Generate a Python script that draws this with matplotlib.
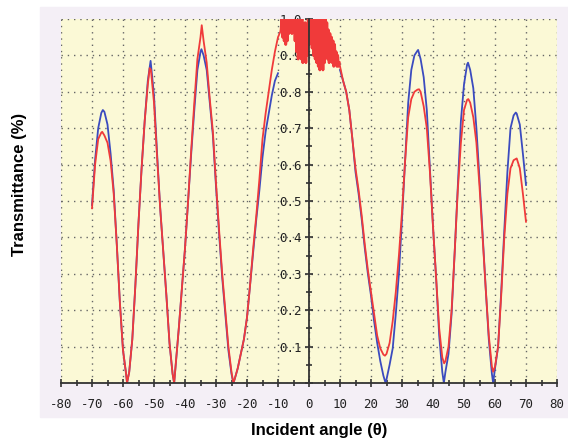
import numpy as np
import matplotlib.pyplot as plt
from matplotlib.patches import Rectangle
from matplotlib.ticker import MultipleLocator

plt.rcParams['axes.unicode_minus'] = False

# blue curve (simulated), angles in degrees
blue_angle_l = [-70, -69, -68, -67, -66.5, -66, -65, -64, -63, -62, -61, -60, -59, -58.7,
                -58, -57, -56, -55, -54, -53, -52, -51.1,
                -50, -49, -48, -47, -46, -45, -44, -43.5,
                -43, -42, -41, -40, -39, -38, -37, -36, -35, -34.7,
                -34, -33, -32, -31, -30, -29, -28, -27, -26, -25, -24.4,
                -24, -23, -22, -21, -20, -19, -18, -17, -16, -15, -14, -13, -12, -11, -10]
blue_l = [0.489, 0.613, 0.70, 0.742, 0.75, 0.745, 0.71, 0.63, 0.53, 0.38, 0.22, 0.09, 0.025, 0.0,
          0.03, 0.12, 0.27, 0.44, 0.59, 0.72, 0.83, 0.885,
          0.79, 0.63, 0.48, 0.36, 0.24, 0.11, 0.025, 0.0,
          0.05, 0.15, 0.26, 0.37, 0.50, 0.63, 0.75, 0.86, 0.91, 0.917,
          0.90, 0.86, 0.77, 0.68, 0.54, 0.41, 0.29, 0.19, 0.09, 0.025, 0.0,
          0.01, 0.04, 0.08, 0.12, 0.18, 0.27, 0.36, 0.45, 0.53, 0.62, 0.69, 0.74, 0.79, 0.83, 0.851]

blue_angle_r = [10, 11, 12, 13, 14, 15, 16, 17, 18, 19, 20, 21, 22, 23, 24, 24.7,
                25, 26, 27, 28, 29, 30, 31, 32, 33, 34, 35, 35.2,
                36, 37, 38, 39, 40, 41, 42, 43, 43.5,
                44, 45, 46, 47, 48, 49, 50, 51, 51.3,
                52, 53, 54, 55, 56, 57, 58, 59, 59.4,
                60, 61, 62, 63, 64, 65, 66, 66.7, 67, 68, 69, 70]
blue_r = [0.86, 0.83, 0.80, 0.75, 0.67, 0.58, 0.52, 0.45, 0.37, 0.30, 0.24, 0.17, 0.11, 0.06, 0.02, 0.0,
          0.01, 0.05, 0.095, 0.19, 0.30, 0.45, 0.61, 0.77, 0.86, 0.90, 0.913, 0.915,
          0.89, 0.84, 0.75, 0.59, 0.43, 0.29, 0.13, 0.03, 0.0,
          0.03, 0.08, 0.19, 0.36, 0.54, 0.72, 0.82, 0.875, 0.88,
          0.86, 0.81, 0.70, 0.56, 0.41, 0.26, 0.12, 0.025, 0.0,
          0.04, 0.10, 0.25, 0.42, 0.58, 0.70, 0.735, 0.743, 0.74, 0.71, 0.63, 0.544]

# red curve (measured)
red_angle_l = [-70, -69, -68, -67, -66.7, -66, -65, -64, -63, -62, -61, -60, -59, -58.7,
               -58, -57, -56, -55, -54, -53, -52, -51.4, -51,
               -50, -49, -48, -47, -46, -45, -44, -43.5,
               -43, -42, -41, -40, -39, -38, -37, -36, -35, -34.6,
               -34, -33, -32, -31, -30, -29, -28, -27, -26, -25, -24.4,
               -24, -23, -22, -21, -20, -19, -18, -17, -16, -15, -14, -13, -12, -11, -10]
red_l = [0.48, 0.60, 0.67, 0.688, 0.69, 0.68, 0.66, 0.61, 0.52, 0.38, 0.22, 0.09, 0.025, 0.0,
         0.03, 0.12, 0.27, 0.44, 0.59, 0.72, 0.82, 0.865, 0.86,
         0.77, 0.62, 0.48, 0.36, 0.24, 0.11, 0.025, 0.0,
         0.05, 0.15, 0.26, 0.37, 0.50, 0.64, 0.77, 0.89, 0.95, 0.983,
         0.94, 0.88, 0.78, 0.69, 0.55, 0.42, 0.30, 0.20, 0.10, 0.03, 0.0,
         0.01, 0.04, 0.08, 0.12, 0.18, 0.27, 0.37, 0.46, 0.56, 0.67, 0.74, 0.80, 0.86, 0.91, 0.95]

# noisy central lobe of the red curve, 0.25 degree apart from -9 to 9.75
red_angle_mid = list(np.arange(-9.0, 10.0, 0.25))
red_mid = [0.97, 1.00, 0.95, 1.00, 0.94, 1.00, 0.93, 0.99, 0.94, 1.00,
           0.96, 1.00, 0.97, 1.00, 0.96, 1.00, 0.97, 1.00, 0.94, 1.00,
           0.91, 0.99, 0.89, 1.00, 0.90, 0.98, 0.89, 1.00, 0.88, 0.97,
           0.89, 0.99, 0.88, 0.98, 0.90, 1.00, 0.93, 1.00, 0.95, 1.00,
           0.92, 1.00, 0.90, 1.00, 0.89, 1.00, 0.88, 1.00, 0.87, 0.99,
           0.86, 1.00, 0.87, 1.00, 0.86, 1.00, 0.88, 1.00, 0.90, 0.99,
           0.89, 0.97, 0.88, 0.96, 0.89, 0.95, 0.88, 0.94, 0.87, 0.93,
           0.88, 0.91, 0.87, 0.90, 0.87, 0.88]

red_angle_r = [10, 11, 12, 13, 14, 15, 16, 17, 18, 19, 20, 21, 22, 23, 24, 24.5,
               25, 26, 27, 28, 29, 30, 31, 32, 33, 34, 35, 35.5,
               36, 37, 38, 39, 40, 41, 42, 43, 43.6,
               44, 45, 46, 47, 48, 49, 50, 51, 51.4,
               52, 53, 54, 55, 56, 57, 58, 59, 59.4,
               60, 61, 62, 63, 64, 65, 66, 67, 68, 69, 70]
red_r = [0.87, 0.83, 0.80, 0.75, 0.67, 0.59, 0.53, 0.46, 0.38, 0.31, 0.25, 0.19, 0.13, 0.095, 0.078, 0.075,
         0.08, 0.11, 0.17, 0.25, 0.35, 0.47, 0.61, 0.73, 0.78, 0.80, 0.806, 0.807,
         0.80, 0.76, 0.70, 0.58, 0.43, 0.29, 0.15, 0.07, 0.054,
         0.06, 0.10, 0.20, 0.36, 0.53, 0.66, 0.75, 0.778, 0.78,
         0.77, 0.73, 0.66, 0.54, 0.40, 0.26, 0.13, 0.045, 0.031,
         0.045, 0.10, 0.24, 0.40, 0.52, 0.59, 0.612, 0.617, 0.59, 0.52, 0.443]

x_ticks = list(range(-80, 81, 10))
y_ticks = [0.0, 0.1, 0.2, 0.3, 0.4, 0.5, 0.6, 0.7, 0.8, 0.9, 1.0]
y_tick_labels = ['', '0.1', '0.2', '0.3', '0.4', '0.5', '0.6', '0.7', '0.8', '0.9', '1.0']

fig = plt.figure(figsize=(5.68, 4.44), dpi=100)
# lavender panel behind the plot
fig.patches.append(Rectangle((40 / 568, 27 / 444), 528 / 568, 410 / 444,
                             transform=fig.transFigure, color='#f4eff6', zorder=-1))

ax = fig.add_axes([61 / 568, 61 / 444, 496 / 568, 364 / 444])
ax.set_zorder(1)
ax.set_facecolor('#fbf9d6')

# blue is hidden under the red noise between -10 and 10, so two pieces
ax.plot(blue_angle_l, blue_l, color='#3b4bbf', lw=1.3, zorder=3)
ax.plot(blue_angle_r, blue_r, color='#3b4bbf', lw=1.3, zorder=3)
ax.plot(red_angle_l + red_angle_mid + red_angle_r, red_l + red_mid + red_r,
        color='#f03a3a', lw=1.3, zorder=4)
# thicker pass over the noisy part so it reads as a solid band
ax.plot(red_angle_mid, red_mid, color='#f03a3a', lw=2.0, zorder=4)

ax.set_xlim(-80, 80)
ax.set_ylim(0, 1.0)
ax.xaxis.set_minor_locator(MultipleLocator(5))
ax.yaxis.set_minor_locator(MultipleLocator(0.05))

ax.spines['left'].set_position(('data', 0))
ax.spines['bottom'].set_position(('data', 0))
ax.spines['top'].set_visible(False)
ax.spines['right'].set_visible(False)
for s in ['left', 'bottom']:
    ax.spines[s].set_linewidth(1.3)
    ax.spines[s].set_color('#333333')
    ax.spines[s].set_zorder(5)

ax.tick_params(which='major', direction='inout', length=6, width=1.2, color='#333333')
ax.tick_params(which='minor', direction='inout', length=5, width=1.2, color='#333333')
ax.tick_params(axis='x', pad=8)
ax.tick_params(axis='y', pad=2)

ax.set_xticks(x_ticks)
ax.set_xticklabels([str(v) for v in x_ticks])
ax.set_yticks(y_ticks)
ax.set_yticklabels(y_tick_labels)
for lab in ax.get_xticklabels() + ax.get_yticklabels():
    lab.set_fontfamily('DejaVu Sans Mono')
    lab.set_fontsize(9)
    lab.set_color('#222222')

ax.grid(True, which='major', color='#666666', lw=1.0, ls=(0, (1, 3.5)))

fig.text(319 / 568, 1 - 430 / 444, 'Incident angle (\u03b8)', ha='center', va='center',
         fontsize=12, fontweight='bold', family='Liberation Sans')
fig.text(20 / 568, 1 - 184 / 444, 'Transmittance (%)', ha='center', va='center',
         rotation=90, fontsize=12, fontweight='bold', family='Liberation Sans')

fig.savefig('out.png', dpi=100)
